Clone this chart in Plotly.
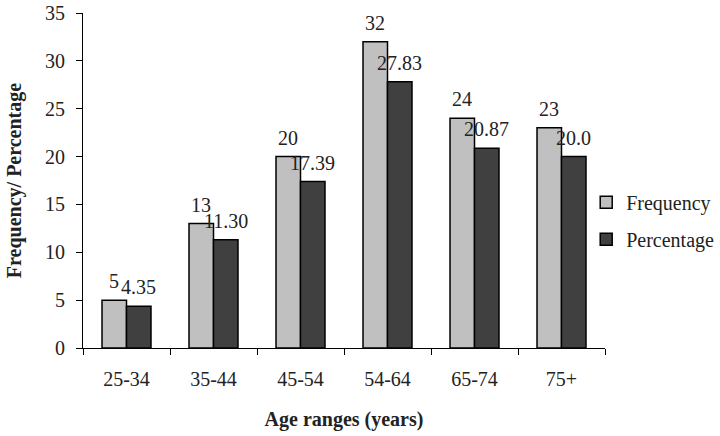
import plotly.graph_objects as go

categories = ["25-34", "35-44", "45-54", "54-64", "65-74", "75+"]
frequency = [5, 13, 20, 32, 24, 23]
percentage = [4.35, 11.30, 17.39, 27.83, 20.87, 20.0]
freq_labels = ["5", "13", "20", "32", "24", "23"]
perc_labels = ["4.35", "11.30", "17.39", "27.83", "20.87", "20.0"]

FONT = "Liberation Serif"
FS = 20
BARGAP = 0.437
half = (1 - BARGAP) / 4

fig = go.Figure()
fig.add_trace(go.Bar(x=categories, y=frequency, name="Frequency", legendgroup="a",
                     marker=dict(color="#c0c0c0", line=dict(color="#000", width=1.5))))
fig.add_trace(go.Bar(x=categories, y=percentage, name="Percentage", legendgroup="b",
                     marker=dict(color="#404040", line=dict(color="#000", width=1.5))))

for i, (v, t) in enumerate(zip(frequency, freq_labels)):
    fig.add_annotation(x=i - half, y=v, text=t, showarrow=False, xref="x", yref="y",
                       yanchor="middle", yshift=19, font=dict(family=FONT, size=FS, color="#222"))
for i, (v, t) in enumerate(zip(percentage, perc_labels)):
    fig.add_annotation(x=i + half, y=v, text=t, showarrow=False, xref="x", yref="y",
                       yanchor="middle", yshift=19, font=dict(family=FONT, size=FS, color="#222"))

fig.update_layout(
    width=720, height=436,
    margin=dict(l=83, r=115, t=13, b=88, autoexpand=False),
    plot_bgcolor="white", paper_bgcolor="white",
    barmode="group", bargap=BARGAP, bargroupgap=0,
    font=dict(family=FONT, size=FS, color="#222"),
    legend=dict(x=0.964, xanchor="left", y=0.38, yanchor="middle",
                font=dict(family=FONT, size=FS, color="#222"),
                tracegroupgap=8, bgcolor="rgba(0,0,0,0)"),
    xaxis=dict(showline=True, linecolor="#000", linewidth=1, ticks="outside",
               tickson="boundaries", ticklen=6, tickcolor="#000", showgrid=False,
               ticklabelstandoff=13, automargin=False, ticklabeloverflow="allow",
               title=dict(text="<b>Age ranges (years)</b>", font=dict(family=FONT, size=FS), standoff=22)),
    yaxis=dict(range=[0, 35], dtick=5, showline=True, linecolor="#000", linewidth=1,
               ticks="outside", ticklen=6, tickcolor="#000", showgrid=False, zeroline=False,
               ticklabelstandoff=7, automargin=False, ticklabeloverflow="allow",
               title=dict(text="<b>Frequency/ Percentage</b>", font=dict(family=FONT, size=FS), standoff=18)),
)

fig.write_html("out.html", config={"displayModeBar": False},
               post_script="document.body.style.margin='0';")
